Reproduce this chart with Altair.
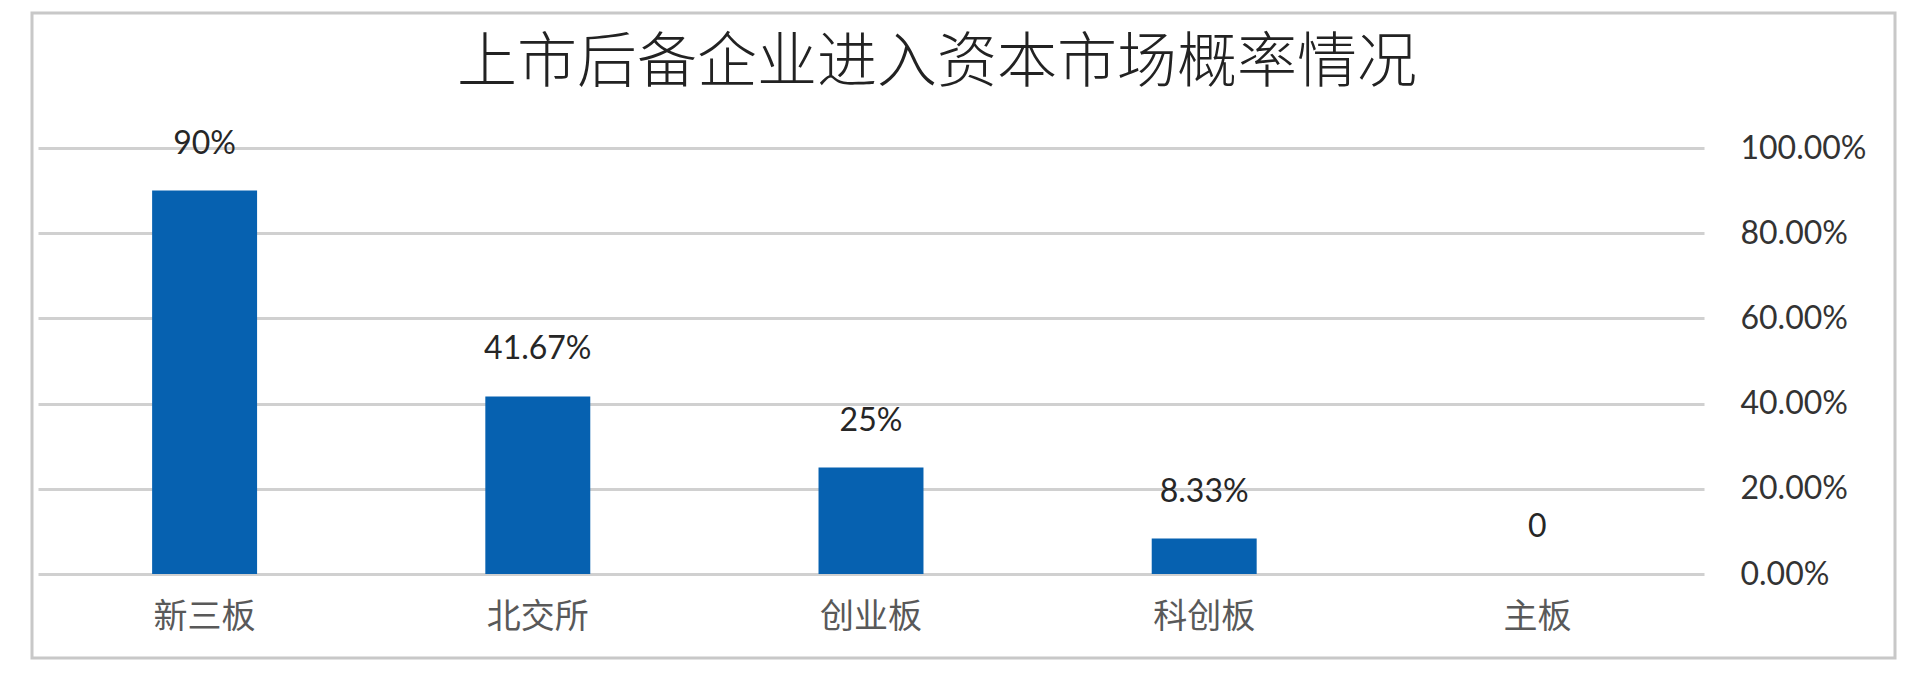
import altair as alt
import pandas as pd

# ---- data ----
categories = ["新三板", "北交所", "创业板", "科创板", "主板"]
values = [90, 41.67, 25, 8.33, 0]
value_labels = ["90%", "41.67%", "25%", "8.33%", "0"]
y_ticks = [0, 20, 40, 60, 80, 100]
title_text = "上市后备企业进入资本市场概率情况"

df = pd.DataFrame({"cat": categories, "val": values, "lbl": value_labels})

W, H = 1666, 426

x_enc = alt.X(
    "cat:N",
    sort=categories,
    scale=alt.Scale(paddingInner=0.685, paddingOuter=0.3425),
    axis=alt.Axis(
        title=None,
        labelAngle=0,
        domain=False,
        ticks=False,
        labelPadding=26,
        labelFont="Noto Sans CJK SC",
        labelFontSize=34,
        labelColor="#595959",
        grid=False,
    ),
)
y_enc = alt.Y(
    "val:Q",
    scale=alt.Scale(domain=[0, 100], nice=False),
    axis=alt.Axis(
        title=None,
        orient="right",
        values=y_ticks,
        labelExpr="format(datum.value, '.2f') + '%'",
        domain=False,
        ticks=False,
        labelPadding=36,
        labelAlign="left",
        labelFont="Lato",
        labelFontSize=32,
        labelColor="#333333",
        grid=True,
        gridColor="#d0d0d0",
        gridWidth=3,
    ),
)

base = alt.Chart(df)
bars = base.mark_bar(color="#0661B0").encode(x=x_enc, y=y_enc)
labels = base.mark_text(
    baseline="bottom", dy=-30, fontSize=32, font="Lato", color="#262626"
).encode(x=x_enc, y=y_enc, text="lbl:N")

frame = alt.Chart(pd.DataFrame({"f": [0]})).mark_rect(
    fillOpacity=0, stroke="#c8c8c8", strokeWidth=3
).encode(
    x=alt.value(-6), x2=alt.value(1857), y=alt.value(-135), y2=alt.value(510)
)

chart = alt.layer(frame, bars, labels).properties(
    width=W,
    height=H,
    padding={"left": 30, "top": 140, "right": 217, "bottom": 97},
    autosize=alt.AutoSizeParams(type="none"),
    title=alt.TitleParams(
        title_text,
        font="Noto Sans CJK SC",
        fontSize=60,
        fontWeight=300,
        color="#222222",
        anchor="middle",
        frame="group",
        dx=66,
        dy=130,
        baseline="alphabetic",
        offset=0,
    ),
).configure_view(stroke=None)

chart.save("out.html", embed_options={"renderer": "svg", "actions": False})
